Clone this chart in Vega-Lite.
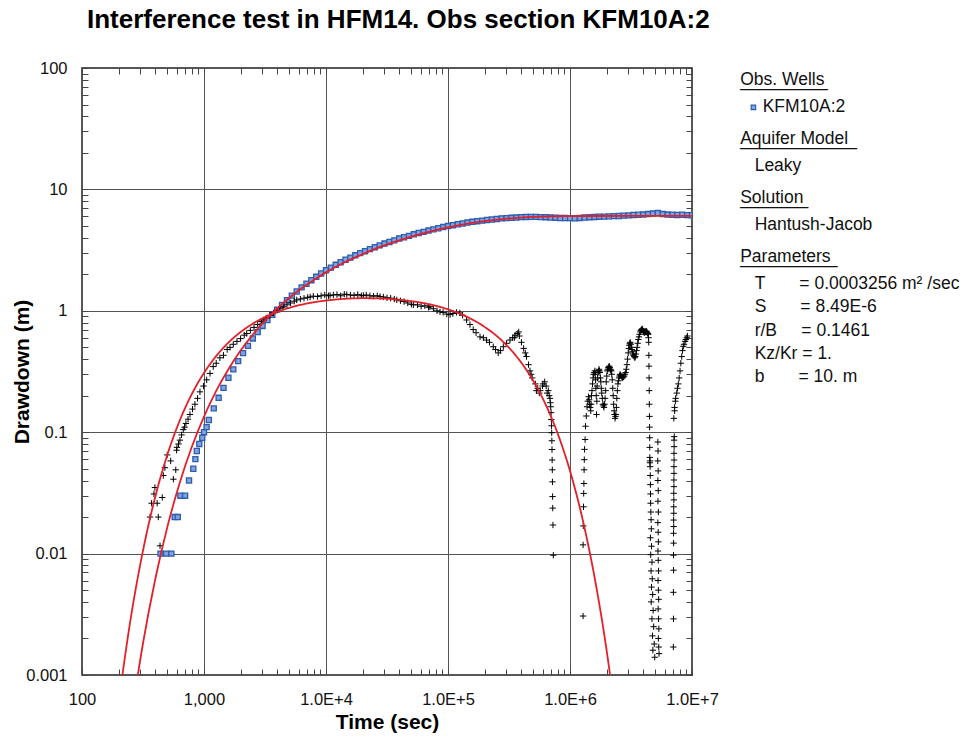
{
  "$schema": "https://vega.github.io/schema/vega-lite/v6.json",
  "width": 610,
  "height": 607,
  "autosize": {"type": "none"},
  "padding": {"left": 82, "top": 68, "right": 284, "bottom": 65},
  "background": "white",
  "title": {"text": "Interference test in HFM14. Obs section KFM10A:2", "anchor": "start", "frame": "group", "dx": 5, "offset": 6, "baseline": "alphabetic", "font": "Liberation Sans", "fontSize": 26, "fontWeight": "bold", "color": "#000"},
  "config": {
    "view": {"stroke": "#222", "strokeWidth": 1.5},
    "font": "Liberation Sans",
    "axis": {"domain": false, "labelFont": "Liberation Sans", "labelFontSize": 16.5, "labelColor": "#111", "tickColor": "#444", "tickWidth": 1, "gridColor": "#555", "gridWidth": 1, "titleFont": "Liberation Sans", "titleFontWeight": "bold", "titleFontSize": 21, "titleColor": "#000", "labelOverlap": false, "labelFlush": false},
    "legend": {"orient": "right", "offset": 44, "padding": 3.15, "labelFont": "Liberation Sans", "labelFontSize": 17.5, "labelColor": "#111", "titleFont": "Liberation Sans", "titleFontSize": 17.5, "titleFontWeight": "normal", "titleColor": "#111", "titleLineHeight": 0.5, "titlePadding": 9.4, "rowPadding": 4.1, "labelLimit": 400, "titleLimit": 400}
  },
  "datasets": {
    "blue": [
      {"t":440,"s":0.01},{"t":489,"s":0.01},{"t":540,"s":0.01},{"t":575,"s":0.02},{"t":610,"s":0.02},{"t":640,"s":0.03},{"t":700,"s":0.03},{"t":754,"s":0.04},{"t":817,"s":0.05},{"t":850,"s":0.06},{"t":873,"s":0.07},{"t":915,"s":0.08},{"t":968,"s":0.09},{"t":1000,"s":0.1},{"t":1050,"s":0.11},
      {"t":1096,"s":0.126},{"t":1202,"s":0.157},{"t":1318,"s":0.192},{"t":1445,"s":0.232},{"t":1585,"s":0.281},{"t":1738,"s":0.329},{"t":1905,"s":0.385},{"t":2089,"s":0.448},{"t":2291,"s":0.514},{"t":2512,"s":0.592},{"t":2754,"s":0.667},{"t":3020,"s":0.75},{"t":3311,"s":0.838},{"t":3631,"s":0.927},{"t":3981,"s":1.023},{"t":4365,"s":1.119},{"t":4786,"s":1.222},{"t":5248,"s":1.334},{"t":5754,"s":1.442},{"t":6310,"s":1.56},{"t":6918,"s":1.671},{"t":7586,"s":1.786},{"t":8318,"s":1.905},{"t":9120,"s":2.028},{"t":10000,"s":2.158},
      {"t":10965,"s":2.27},{"t":12023,"s":2.393},{"t":13183,"s":2.512},{"t":14454,"s":2.636},{"t":15849,"s":2.742},{"t":17378,"s":2.864},{"t":19055,"s":2.985},{"t":20893,"s":3.097},{"t":22909,"s":3.221},{"t":25119,"s":3.342},{"t":27542,"s":3.459},{"t":30200,"s":3.581},{"t":33113,"s":3.69},{"t":36308,"s":3.802},{"t":39811,"s":3.936},{"t":43652,"s":4.036},{"t":47863,"s":4.14},{"t":52481,"s":4.266},{"t":57544,"s":4.375},{"t":63096,"s":4.467},{"t":69183,"s":4.581},{"t":75858,"s":4.688},{"t":83176,"s":4.786},{"t":91201,"s":4.898},{"t":100000,"s":4.989},
      {"t":109648,"s":5.07},{"t":120226,"s":5.164},{"t":131826,"s":5.236},{"t":144544,"s":5.333},{"t":158489,"s":5.408},{"t":173780,"s":5.47},{"t":190546,"s":5.534},{"t":208930,"s":5.598},{"t":229087,"s":5.649},{"t":251189,"s":5.702},{"t":275423,"s":5.768},{"t":301995,"s":5.794},{"t":331131,"s":5.834},{"t":363078,"s":5.861},{"t":398107,"s":5.916},{"t":436516,"s":5.929},{"t":478630,"s":5.943},{"t":524807,"s":5.943},{"t":575440,"s":5.916},{"t":630957,"s":5.902},{"t":691831,"s":5.861},{"t":758578,"s":5.848},{"t":831764,"s":5.808},{"t":912011,"s":5.808},{"t":1000000,"s":5.794},
      {"t":1096478,"s":5.781},{"t":1202264,"s":5.821},{"t":1318257,"s":5.861},{"t":1445440,"s":5.902},{"t":1584893,"s":5.929},{"t":1737801,"s":5.957},{"t":1905461,"s":5.97},{"t":2089296,"s":5.998},{"t":2290868,"s":6.026},{"t":2511886,"s":6.039},{"t":2754229,"s":6.081},{"t":3019952,"s":6.109},{"t":3311311,"s":6.152},{"t":3630781,"s":6.18},{"t":3981072,"s":6.209},{"t":4365158,"s":6.266},{"t":4786301,"s":6.324},{"t":5248075,"s":6.383},{"t":5754399,"s":6.266},{"t":6309573,"s":6.209},{"t":6918310,"s":6.18},{"t":7585776,"s":6.152},{"t":8317638,"s":6.18},{"t":9120108,"s":6.138},{"t":10000000,"s":6.124}
    ],
    "black": [
      {"t":361,"s":0.02},{"t":422,"s":0.02},{"t":436,"s":0.0116},{"t":372,"s":0.026},{"t":413,"s":0.026},{"t":389,"s":0.031},{"t":455,"s":0.029},{"t":396,"s":0.035},{"t":464,"s":0.044},{"t":561,"s":0.041},{"t":478,"s":0.051},{"t":587,"s":0.049},{"t":500,"s":0.065},{"t":533,"s":0.058},{"t":596,"s":0.071},
      {"t":600,"s":0.075},{"t":618,"s":0.08},{"t":635,"s":0.086},{"t":655,"s":0.095},{"t":676,"s":0.105},{"t":693,"s":0.11},{"t":711,"s":0.118},{"t":740,"s":0.128},{"t":767,"s":0.14},{"t":805,"s":0.155},{"t":843,"s":0.17},{"t":885,"s":0.19},{"t":927,"s":0.215},{"t":990,"s":0.24},{"t":1052,"s":0.27},{"t":1120,"s":0.305},{"t":1191,"s":0.347},{"t":1259,"s":0.37},{"t":1349,"s":0.41},{"t":1445,"s":0.43},{"t":1549,"s":0.48},{"t":1633,"s":0.5},{"t":1738,"s":0.53},{"t":1862,"s":0.56},{"t":1995,"s":0.59},{"t":2138,"s":0.63},{"t":2239,"s":0.65},{"t":2399,"s":0.69},{"t":2570,"s":0.73},{"t":2754,"s":0.77},{"t":2951,"s":0.815},{"t":3063,"s":0.84},{"t":3236,"s":0.873},{"t":3467,"s":0.917},{"t":3715,"s":0.962},{"t":3981,"s":1.01},{"t":4198,"s":1.05},{"t":4467,"s":1.08},{"t":4786,"s":1.12},{"t":5129,"s":1.16},{"t":5495,"s":1.2},{"t":5754,"s":1.23},{"t":6166,"s":1.25},{"t":6607,"s":1.27},{"t":7079,"s":1.29},{"t":7413,"s":1.3},{"t":7870,"s":1.32},{"t":8511,"s":1.31},{"t":9120,"s":1.33},{"t":9772,"s":1.35},{"t":10471,"s":1.33},{"t":10790,"s":1.34},{"t":11482,"s":1.35},{"t":12303,"s":1.36},{"t":13183,"s":1.33},{"t":14125,"s":1.37},{"t":14790,"s":1.36},{"t":15849,"s":1.35},{"t":16982,"s":1.34},{"t":18197,"s":1.36},{"t":19498,"s":1.33},{"t":20230,"s":1.34},{"t":21380,"s":1.35},{"t":22909,"s":1.33},{"t":24547,"s":1.32},{"t":26303,"s":1.33},{"t":27730,"s":1.31},{"t":29512,"s":1.3},{"t":31623,"s":1.28},{"t":33884,"s":1.27},{"t":36308,"s":1.25},{"t":38000,"s":1.23},{"t":40738,"s":1.21},{"t":43652,"s":1.19},{"t":46774,"s":1.16},{"t":50119,"s":1.13},{"t":52000,"s":1.12},{"t":56234,"s":1.12},{"t":60256,"s":1.09},{"t":64565,"s":1.1},{"t":69183,"s":1.07},{"t":71000,"s":1.08},{"t":75858,"s":1.04},{"t":81283,"s":1.0},{"t":86000,"s":0.98},{"t":91201,"s":0.97},{"t":97724,"s":0.94},{"t":104000,"s":0.93},{"t":109648,"s":0.95},{"t":117490,"s":0.97},{"t":125000,"s":0.96},{"t":131826,"s":0.92},{"t":142000,"s":0.84},{"t":151356,"s":0.77},{"t":161000,"s":0.7},{"t":169824,"s":0.66},{"t":183000,"s":0.61},{"t":194984,"s":0.6},{"t":207000,"s":0.574},{"t":218776,"s":0.55},{"t":235000,"s":0.506},{"t":245471,"s":0.48},{"t":258000,"s":0.45},{"t":269153,"s":0.47},{"t":284000,"s":0.506},{"t":301995,"s":0.54},{"t":322000,"s":0.574},{"t":338844,"s":0.6},{"t":350000,"s":0.6},{"t":354813,"s":0.63},{"t":370000,"s":0.65},{"t":380000,"s":0.67},{"t":384592,"s":0.62},{"t":400000,"s":0.55},{"t":416869,"s":0.49},{"t":430000,"s":0.45},{"t":440000,"s":0.42},{"t":457088,"s":0.36},{"t":470000,"s":0.32},{"t":480000,"s":0.3},{"t":489779,"s":0.28},{"t":520000,"s":0.25},{"t":530000,"s":0.22},{"t":543250,"s":0.23},{"t":560000,"s":0.21},{"t":570000,"s":0.22},{"t":595662,"s":0.24},{"t":600000,"s":0.25},{"t":620000,"s":0.26},{"t":638263,"s":0.24},{"t":650000,"s":0.21},{"t":664000,"s":0.22},{"t":675000,"s":0.2},
      {"t":685000,"s":0.19},{"t":690000,"s":0.175},{"t":695000,"s":0.162},{"t":700000,"s":0.145},{"t":703000,"s":0.127},{"t":706000,"s":0.113},{"t":708000,"s":0.099},{"t":710000,"s":0.085},{"t":712000,"s":0.072},{"t":714000,"s":0.059},{"t":716000,"s":0.049},{"t":718000,"s":0.039},{"t":720000,"s":0.0295},{"t":722000,"s":0.0237},{"t":725000,"s":0.0172},{"t":730000,"s":0.0097},
      {"t":1280000,"s":0.00306},{"t":1280000,"s":0.0118},{"t":1285000,"s":0.0169},{"t":1290000,"s":0.0243},{"t":1295000,"s":0.0313},{"t":1300000,"s":0.0378},{"t":1305000,"s":0.049},{"t":1310000,"s":0.0594},{"t":1315000,"s":0.0722},{"t":1330000,"s":0.087},{"t":1340000,"s":0.112},{"t":1360000,"s":0.136},{"t":1380000,"s":0.162},{"t":1400000,"s":0.18},{"t":1420000,"s":0.196},{"t":1450000,"s":0.17},{"t":1480000,"s":0.15},{"t":1500000,"s":0.2},{"t":1530000,"s":0.25},{"t":1560000,"s":0.3},{"t":1600000,"s":0.32},{"t":1620000,"s":0.27},{"t":1640000,"s":0.2},{"t":1650000,"s":0.14},{"t":1670000,"s":0.24},{"t":1700000,"s":0.31},{"t":1730000,"s":0.33},{"t":1760000,"s":0.31},{"t":1790000,"s":0.26},{"t":1820000,"s":0.21},{"t":1860000,"s":0.17},{"t":1900000,"s":0.16},{"t":1940000,"s":0.19},{"t":1980000,"s":0.26},{"t":2020000,"s":0.32},{"t":2060000,"s":0.34},{"t":2100000,"s":0.35},{"t":2140000,"s":0.33},{"t":2180000,"s":0.32},{"t":2220000,"s":0.27},{"t":2260000,"s":0.2},{"t":2300000,"s":0.15},{"t":2340000,"s":0.13},{"t":2380000,"s":0.14},{"t":2420000,"s":0.19},{"t":2470000,"s":0.25},{"t":2520000,"s":0.28},{"t":2570000,"s":0.3},{"t":2630000,"s":0.29},{"t":2700000,"s":0.28},{"t":2780000,"s":0.29},{"t":2860000,"s":0.31},{"t":2930000,"s":0.36},{"t":3000000,"s":0.45},{"t":3060000,"s":0.52},{"t":3120000,"s":0.55},{"t":3180000,"s":0.5},{"t":3250000,"s":0.46},{"t":3320000,"s":0.43},{"t":3400000,"s":0.41},{"t":3470000,"s":0.44},{"t":3550000,"s":0.5},{"t":3630000,"s":0.58},{"t":3720000,"s":0.64},{"t":3810000,"s":0.69},{"t":3900000,"s":0.71},{"t":3980000,"s":0.68},{"t":4060000,"s":0.66},{"t":4140000,"s":0.67},{"t":4220000,"s":0.68},{"t":4300000,"s":0.66},{"t":4380000,"s":0.64},
      {"t":1435000,"s":0.185},{"t":1465000,"s":0.16},{"t":1490000,"s":0.17},{"t":1515000,"s":0.22},{"t":1545000,"s":0.28},{"t":1580000,"s":0.31},{"t":1610000,"s":0.3},{"t":1630000,"s":0.23},{"t":1660000,"s":0.18},{"t":1685000,"s":0.28},{"t":1715000,"s":0.32},{"t":1745000,"s":0.32},{"t":1775000,"s":0.28},{"t":1805000,"s":0.23},{"t":1840000,"s":0.19},{"t":1880000,"s":0.165},{"t":1920000,"s":0.17},{"t":1960000,"s":0.22},{"t":2000000,"s":0.29},{"t":2040000,"s":0.33},{"t":2080000,"s":0.345},{"t":2120000,"s":0.34},{"t":2160000,"s":0.325},{"t":2200000,"s":0.3},{"t":2240000,"s":0.23},{"t":2280000,"s":0.17},{"t":2320000,"s":0.14},{"t":2360000,"s":0.135},{"t":2400000,"s":0.16},{"t":2445000,"s":0.22},{"t":2495000,"s":0.265},{"t":2545000,"s":0.29},{"t":2600000,"s":0.295},{"t":2665000,"s":0.285},{"t":2740000,"s":0.285},{"t":2820000,"s":0.3},{"t":2895000,"s":0.33},{"t":2965000,"s":0.4},{"t":3030000,"s":0.49},{"t":3090000,"s":0.54},{"t":3150000,"s":0.53},{"t":3215000,"s":0.48},{"t":3285000,"s":0.44},{"t":3360000,"s":0.42},{"t":3435000,"s":0.42},{"t":3510000,"s":0.47},{"t":3590000,"s":0.54},{"t":3675000,"s":0.61},{"t":3765000,"s":0.67},{"t":3855000,"s":0.7},{"t":3940000,"s":0.7},{"t":4020000,"s":0.67},{"t":4100000,"s":0.665},{"t":4180000,"s":0.675},{"t":4260000,"s":0.67},{"t":4340000,"s":0.65},{"t":4400000,"s":0.6},
      {"t":4420000,"s":0.55},{"t":4430000,"s":0.43},{"t":4440000,"s":0.35},{"t":4450000,"s":0.28},{"t":4460000,"s":0.22},{"t":4470000,"s":0.17},{"t":4480000,"s":0.135},{"t":4490000,"s":0.11},{"t":4500000,"s":0.09},{"t":4505000,"s":0.075},{"t":4510000,"s":0.062},{"t":4520000,"s":0.056},{"t":4530000,"s":0.058},{"t":4540000,"s":0.052},{"t":4550000,"s":0.044},{"t":4560000,"s":0.037},{"t":4570000,"s":0.031},{"t":4580000,"s":0.026},{"t":4600000,"s":0.022},{"t":4620000,"s":0.019},{"t":4640000,"s":0.016},{"t":4560000,"s":0.0135},{"t":4660000,"s":0.0115},{"t":4590000,"s":0.0098},{"t":4700000,"s":0.0085},{"t":4620000,"s":0.0072},{"t":4720000,"s":0.0062},{"t":4660000,"s":0.0053},{"t":4760000,"s":0.0046},{"t":4630000,"s":0.004},{"t":4800000,"s":0.0034},{"t":4700000,"s":0.0029},{"t":4850000,"s":0.0025},{"t":4740000,"s":0.0021},{"t":4900000,"s":0.0018},{"t":4780000,"s":0.0016},{"t":4950000,"s":0.0014},
      {"t":5250000,"s":0.083},{"t":5270000,"s":0.07},{"t":5240000,"s":0.058},{"t":5280000,"s":0.048},{"t":5250000,"s":0.04},{"t":5290000,"s":0.033},{"t":5260000,"s":0.027},{"t":5300000,"s":0.022},{"t":5250000,"s":0.018},{"t":5280000,"s":0.015},{"t":5300000,"s":0.0125},{"t":5260000,"s":0.0105},{"t":5290000,"s":0.0088},{"t":5320000,"s":0.0072},{"t":5270000,"s":0.006},{"t":5300000,"s":0.005},{"t":5330000,"s":0.0042},{"t":5280000,"s":0.0035},{"t":5320000,"s":0.0029},{"t":5350000,"s":0.0024},{"t":5300000,"s":0.002},{"t":5340000,"s":0.0017},{"t":5370000,"s":0.0015},
      {"t":7030000,"s":0.0017},{"t":7050000,"s":0.0029},{"t":7040000,"s":0.0048},{"t":7060000,"s":0.0073},{"t":7050000,"s":0.0097},{"t":7070000,"s":0.0122},{"t":7060000,"s":0.0147},{"t":7080000,"s":0.0167},{"t":7070000,"s":0.0189},{"t":7090000,"s":0.0215},{"t":7080000,"s":0.0243},{"t":7100000,"s":0.0277},{"t":7090000,"s":0.0314},{"t":7110000,"s":0.0356},{"t":7100000,"s":0.0404},{"t":7120000,"s":0.0458},{"t":7110000,"s":0.052},{"t":7130000,"s":0.059},{"t":7120000,"s":0.067},{"t":7140000,"s":0.076},{"t":7130000,"s":0.086},{"t":7150000,"s":0.092},{"t":7100000,"s":0.13},{"t":7200000,"s":0.15},{"t":7200000,"s":0.16},{"t":7300000,"s":0.18},{"t":7350000,"s":0.19},{"t":7500000,"s":0.21},{"t":7600000,"s":0.23},{"t":7730000,"s":0.25},{"t":7850000,"s":0.28},{"t":7980000,"s":0.32},{"t":8100000,"s":0.37},{"t":8240000,"s":0.42},{"t":8350000,"s":0.47},{"t":8490000,"s":0.51},{"t":8600000,"s":0.53},{"t":8770000,"s":0.56},{"t":8900000,"s":0.58},{"t":9060000,"s":0.6},{"t":9170000,"s":0.62}
    ],
    "draw": [
      {"t":251,"s":0.000417},{"t":316,"s":0.001818},{"t":398,"s":0.00612},{"t":501,"s":0.0166},{"t":631,"s":0.038},{"t":794,"s":0.0755},{"t":1000,"s":0.1346},{"t":1259,"s":0.219},{"t":1585,"s":0.33},{"t":1995,"s":0.47},{"t":2512,"s":0.637},{"t":3162,"s":0.83},{"t":3981,"s":1.045},{"t":5012,"s":1.28},{"t":6310,"s":1.532},{"t":7943,"s":1.797},{"t":10000,"s":2.072},{"t":14125,"s":2.498},{"t":19953,"s":2.934},{"t":28184,"s":3.372},{"t":39811,"s":3.803},{"t":56234,"s":4.219},{"t":79433,"s":4.613},{"t":100000,"s":4.858},{"t":141254,"s":5.19},{"t":199526,"s":5.472},{"t":281838,"s":5.696},{"t":398107,"s":5.857},{"t":501187,"s":5.931},{"t":630957,"s":5.981},{"t":794328,"s":6.011},{"t":1000000,"s":6.028},{"t":1258925,"s":6.036},{"t":1584893,"s":6.039},{"t":3162278,"s":6.041},{"t":10000000,"s":6.041}
    ],
    "deriv": [
      {"t":200,"s":0.000602},{"t":251,"s":0.00294},{"t":316,"s":0.01055},{"t":398,"s":0.0292},{"t":501,"s":0.0653},{"t":631,"s":0.124},{"t":794,"s":0.206},{"t":1000,"s":0.308},{"t":1259,"s":0.424},{"t":1585,"s":0.547},{"t":1995,"s":0.668},{"t":2512,"s":0.783},{"t":3162,"s":0.888},{"t":3981,"s":0.98},{"t":5012,"s":1.058},{"t":6310,"s":1.124},{"t":7943,"s":1.176},{"t":10000,"s":1.215},{"t":14125,"s":1.254},{"t":19953,"s":1.27},{"t":28184,"s":1.263},{"t":39811,"s":1.233},{"t":56234,"s":1.18},{"t":79433,"s":1.099},{"t":100000,"s":1.028},{"t":141254,"s":0.897},{"t":199526,"s":0.737},{"t":281838,"s":0.558},{"t":398107,"s":0.375},{"t":501187,"s":0.264},{"t":630957,"s":0.1694},{"t":794328,"s":0.097},{"t":1000000,"s":0.048},{"t":1258925,"s":0.01979},{"t":1584893,"s":0.00648},{"t":1995262,"s":0.0016},{"t":2511886,"s":0.00027}
    ],
    "params": [
      {"p": "T\u00a0\u00a0\u00a0\u00a0\u00a0\u00a0\u00a0= 0.0003256 m\u00b2 /sec"},
      {"p": "S\u00a0\u00a0\u00a0\u00a0\u00a0\u00a0\u00a0= 8.49E-6"},
      {"p": "r/B\u00a0\u00a0\u00a0\u00a0\u00a0= 0.1461"},
      {"p": "Kz/Kr = 1."},
      {"p": "b\u00a0\u00a0\u00a0\u00a0\u00a0\u00a0\u00a0= 10. m"}
    ]
  },
  "layer": [
    {
      "data": {"name": "blue"},
      "mark": {"type": "point", "shape": "square", "size": 26, "filled": false, "fill": "#7fa3dc", "fillOpacity": 1, "strokeWidth": 1.3, "opacity": 1, "clip": true},
      "encoding": {
        "x": {"field": "t", "type": "quantitative", "scale": {"type": "log", "domain": [100, 10000000], "nice": false},
          "axis": {"orient": "bottom", "values": [100,200,300,400,500,600,700,800,900,1000,2000,3000,4000,5000,6000,7000,8000,9000,10000,20000,30000,40000,50000,60000,70000,80000,90000,100000,200000,300000,400000,500000,600000,700000,800000,900000,1000000,2000000,3000000,4000000,5000000,6000000,7000000,8000000,9000000,10000000],
            "tickSize": -6, "labelPadding": 22, "grid": true,
            "gridOpacity": {"condition": {"test": "abs(log(datum.value)/LN10 - round(log(datum.value)/LN10)) < 0.001", "value": 1}, "value": 0},
            "labelExpr": "abs(log(datum.value)/LN10 - round(log(datum.value)/LN10)) > 0.001 ? '' : datum.value == 100 ? '100' : datum.value == 1000 ? '1,000' : '1.0E+' + round(log(datum.value)/LN10)",
            "title": "Time (sec)", "titleX": 305, "titleY": 47, "titleBaseline": "middle", "titleAlign": "center"}},
        "y": {"field": "s", "type": "quantitative", "scale": {"type": "log", "domain": [0.001, 100], "nice": false},
          "axis": {"orient": "left", "values": [0.001,0.002,0.003,0.004,0.005,0.006,0.007,0.008,0.009,0.01,0.02,0.03,0.04,0.05,0.06,0.07,0.08,0.09,0.1,0.2,0.3,0.4,0.5,0.6,0.7,0.8,0.9,1,2,3,4,5,6,7,8,9,10,20,30,40,50,60,70,80,90,100],
            "tickSize": -6, "labelPadding": 21, "grid": true, "format": "~g",
            "gridOpacity": {"condition": {"test": "abs(log(datum.value)/LN10 - round(log(datum.value)/LN10)) < 0.001", "value": 1}, "value": 0},
            "labelExpr": "abs(log(datum.value)/LN10 - round(log(datum.value)/LN10)) > 0.001 ? '' : datum.label",
            "title": "Drawdown (m)", "titleX": -60, "titleY": 303.5, "titleAngle": 270, "titleBaseline": "middle", "titleAlign": "center"}},
        "color": {"datum": "KFM10A:2", "type": "nominal", "scale": {"range": ["#2e5db0"]},
          "legend": {"title": ["Obs. Wells", "_________"], "symbolType": "square", "symbolSize": 20, "symbolStrokeWidth": 1.2, "symbolFillColor": "#c5d6ef", "symbolOffset": 4.5, "labelOffset": 0.5}}
      }
    },
    {
      "data": {"name": "black"},
      "mark": {"type": "point", "shape": "M-1,0H1M0,-1V1", "size": 40, "filled": false, "stroke": "#000", "strokeWidth": 1, "opacity": 1, "clip": true},
      "encoding": {
        "x": {"field": "t", "type": "quantitative", "scale": {"type": "log", "domain": [100, 10000000], "nice": false},
          "axis": {"orient": "top", "values": [100,200,300,400,500,600,700,800,900,1000,2000,3000,4000,5000,6000,7000,8000,9000,10000,20000,30000,40000,50000,60000,70000,80000,90000,100000,200000,300000,400000,500000,600000,700000,800000,900000,1000000,2000000,3000000,4000000,5000000,6000000,7000000,8000000,9000000,10000000], "tickSize": -6, "labels": false, "grid": false, "title": null}},
        "y": {"field": "s", "type": "quantitative", "scale": {"type": "log", "domain": [0.001, 100], "nice": false},
          "axis": {"orient": "right", "values": [0.001,0.002,0.003,0.004,0.005,0.006,0.007,0.008,0.009,0.01,0.02,0.03,0.04,0.05,0.06,0.07,0.08,0.09,0.1,0.2,0.3,0.4,0.5,0.6,0.7,0.8,0.9,1,2,3,4,5,6,7,8,9,10,20,30,40,50,60,70,80,90,100], "tickSize": -6, "labels": false, "grid": false, "title": null}}
      }
    },
    {
      "data": {"name": "draw"},
      "mark": {"type": "line", "strokeWidth": 1.8, "interpolate": "monotone", "clip": true},
      "encoding": {
        "x": {"field": "t", "type": "quantitative", "scale": {"type": "log", "domain": [100, 10000000], "nice": false}, "axis": null},
        "y": {"field": "s", "type": "quantitative", "scale": {"type": "log", "domain": [0.001, 100], "nice": false}, "axis": null},
        "stroke": {"datum": "Leaky", "type": "nominal", "scale": {"range": ["#e3202a"]},
          "legend": {"title": ["Aquifer Model", "____________"], "symbolSize": 4, "symbolOpacity": 0, "labelOffset": -3}}
      }
    },
    {
      "data": {"name": "deriv"},
      "mark": {"type": "line", "strokeWidth": 1.8, "interpolate": "monotone", "stroke": "#e3202a", "clip": true},
      "encoding": {
        "x": {"field": "t", "type": "quantitative", "scale": {"type": "log", "domain": [100, 10000000], "nice": false}, "axis": null},
        "y": {"field": "s", "type": "quantitative", "scale": {"type": "log", "domain": [0.001, 100], "nice": false}, "axis": null},
        "strokeDash": {"datum": "Hantush-Jacob", "type": "nominal", "scale": {"range": [[1, 0]]},
          "legend": {"title": ["Solution", "_______"], "symbolSize": 4, "symbolOpacity": 0, "labelOffset": -3}}
      }
    },
    {
      "data": {"name": "params"},
      "mark": {"type": "point", "opacity": 0},
      "encoding": {
        "shape": {"field": "p", "type": "nominal", "sort": null,
          "scale": {"domain": ["T\u00a0\u00a0\u00a0\u00a0\u00a0\u00a0\u00a0= 0.0003256 m\u00b2 /sec", "S\u00a0\u00a0\u00a0\u00a0\u00a0\u00a0\u00a0= 8.49E-6", "r/B\u00a0\u00a0\u00a0\u00a0\u00a0= 0.1461", "Kz/Kr = 1.", "b\u00a0\u00a0\u00a0\u00a0\u00a0\u00a0\u00a0= 10. m"]},
          "legend": {"title": ["Parameters", "__________"], "symbolSize": 4, "symbolOpacity": 0, "labelOffset": -3}}
      }
    }
  ],
  "resolve": {"axis": {"x": "independent", "y": "independent"}}
}
